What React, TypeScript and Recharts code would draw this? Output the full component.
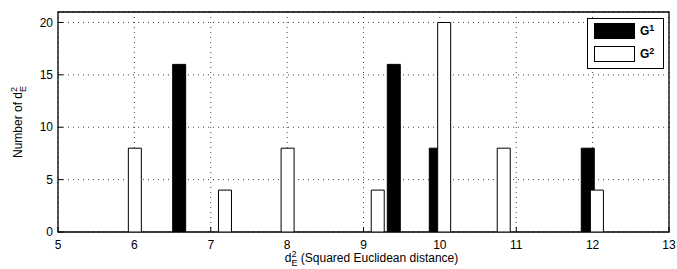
import React from 'react';
import {
  ComposedChart,
  Bar,
  XAxis,
  YAxis,
  CartesianGrid,
  ReferenceArea,
} from 'recharts';

// G^1 (black bars): squared euclidean distance and count
const g1Distances = [6.58, 9.39, 9.94, 11.93];
const g1Counts = [16, 16, 8, 8];
// G^2 (white bars)
const g2Distances = [6.01, 7.19, 8.01, 9.19, 10.06, 10.84, 12.06];
const g2Counts = [8, 4, 8, 4, 20, 8, 4];

const xTicks = [5, 6, 7, 8, 9, 10, 11, 12, 13];
const yTicks = [0, 5, 10, 15, 20];

const FONT = '"Liberation Sans", Arial, Helvetica, sans-serif';
const W = 677;
const H = 269;
const LEFT = 58;
const BOTTOM = 37;
const TOP = 12;
const RIGHT = 8;

const g1Data = g1Distances.map((d, i) => ({ d, n: g1Counts[i] }));
const g2Data = g2Distances.map((d, i) => ({ d, n: g2Counts[i] }));

const YLabel = (props: any) => {
  const vb = props.viewBox || {};
  const cy = (vb.y || 0) + (vb.height || 0) / 2;
  return (
    <text
      transform={`translate(22,${cy}) rotate(-90)`}
      textAnchor="middle"
      fontFamily={FONT}
      fontSize={12}
      fill="#000"
    >
      Number of d
      <tspan fontSize={9} dy={-5}>2</tspan>
      <tspan fontSize={9} dx={-5} dy={9}>E</tspan>
    </text>
  );
};

const XLabel = (props: any) => {
  const vb = props.viewBox || {};
  const cx = (vb.x || 0) + (vb.width || 0) / 2 + 8;
  return (
    <text x={cx} y={262} textAnchor="middle" fontFamily={FONT} fontSize={12} fill="#000">
      d
      <tspan fontSize={9} dy={-5}>2</tspan>
      <tspan fontSize={9} dx={-5} dy={9}>E</tspan>
      <tspan dy={-4}> (Squared Euclidean distance)</tspan>
    </text>
  );
};

const LegendBox = () => (
  <div
    style={{
      position: 'absolute',
      left: 587,
      top: 18,
      width: 75,
      height: 49,
      border: '1px solid #000',
      background: '#fff',
      fontFamily: FONT,
      fontSize: 12,
      fontWeight: 'bold',
    }}
  >
    {[
      { name: '1', fill: '#000' },
      { name: '2', fill: '#fff' },
    ].map((s, i) => (
      <div key={s.name} style={{ position: 'absolute', left: 6, top: 4 + i * 23, display: 'flex', alignItems: 'center' }}>
        <div style={{ width: 41, height: 16, background: s.fill, border: '1px solid #000', boxSizing: 'border-box' }} />
        <span style={{ marginLeft: 5 }}>
          G<sup style={{ fontSize: 9, verticalAlign: 'top', lineHeight: '9px' }}>{s.name}</sup>
        </span>
      </div>
    ))}
  </div>
);

export default function App() {
  return (
    <div style={{ position: 'absolute', left: 0, top: 0, width: W, height: H, background: '#fff' }}>
      {/* base layer: grid, axes, G1 */}
      <ComposedChart
        width={W}
        height={H}
        data={g1Data}
        margin={{ top: TOP, right: RIGHT, bottom: 0, left: 0 }}
      >
        <CartesianGrid stroke="#444" strokeDasharray="1 4" />
        <XAxis
          dataKey="d"
          type="number"
          domain={[5, 13]}
          ticks={xTicks}
          allowDataOverflow
          tickLine={{ stroke: '#000' }}
          axisLine={false}
          tickSize={-5}
          tickMargin={13}
          tick={{ fill: '#000', fontSize: 12, fontFamily: FONT }}
          height={BOTTOM}
          label={<XLabel />}
        />
        <YAxis
          type="number"
          domain={[0, 21]}
          ticks={yTicks}
          allowDataOverflow
          tickLine={{ stroke: '#000' }}
          axisLine={false}
          tickSize={-5}
          tickMargin={10}
          width={LEFT}
          tick={{ fill: '#000', fontSize: 12, fontFamily: FONT }}
          label={<YLabel />}
        />
        <Bar dataKey="n" barSize={13} fill="#000" stroke="#000" strokeWidth={1} isAnimationActive={false} />
      </ComposedChart>
      {/* top layer: G2, top/right ticks and the axes box */}
      <div style={{ position: 'absolute', left: 0, top: 0 }}>
        <ComposedChart
          width={W}
          height={H}
          data={g2Data}
          margin={{ top: TOP, right: RIGHT, bottom: BOTTOM, left: LEFT }}
        >
          <XAxis
            dataKey="d"
            type="number"
            orientation="top"
            domain={[5, 13]}
            ticks={xTicks}
            allowDataOverflow
            height={0}
            tick={false}
            axisLine={false}
            tickLine={{ stroke: '#000' }}
            tickSize={-5}
          />
          <YAxis
            type="number"
            orientation="right"
            domain={[0, 21]}
            ticks={yTicks}
            allowDataOverflow
            width={0}
            tick={false}
            axisLine={false}
            tickLine={{ stroke: '#000' }}
            tickSize={-5}
          />
          <Bar dataKey="n" barSize={13} fill="#fff" stroke="#000" strokeWidth={1} isAnimationActive={false} />
          <ReferenceArea x1={5} x2={13} y1={0} y2={21} fill="none" fillOpacity={0} stroke="#000" strokeWidth={1.3} />
        </ComposedChart>
      </div>
      <LegendBox />
    </div>
  );
}
